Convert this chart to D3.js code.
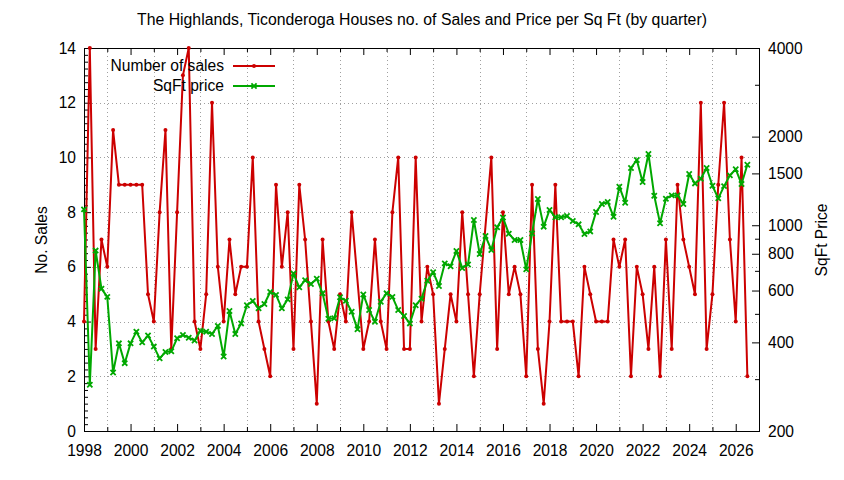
<!DOCTYPE html>
<html>
<head>
<meta charset="utf-8">
<script src="https://cdn.jsdelivr.net/npm/d3@7"></script>
<style>
  body { margin: 0; background: #fff; }
  svg text { font-family: "Liberation Sans", Arial, sans-serif; fill: #000; }
</style>
</head>
<body>
<div class="canvas"></div>
<script>
// quarterly data, first quarter 1998
const startYear = 1998;
const sales = [
  4, 14, 3, 7, 6, 11, 9, 9, 9, 9, 9, 5, 4, 8, 11, 3, 8, 13, 14, 4,
  3, 5, 12, 6, 4, 7, 5, 6, 6, 10, 4, 3, 2, 9, 6, 8, 3, 9, 7, 4,
  1, 7, 4, 3, 5, 4, 8, null, 3, 4, 7, 4, 3, 8, 10, 3, 3, 10, 4, 6,
  5, 1, 3, 5, 4, 8, 5, 2, 5, null, 10, 3, 8, 5, 6, 5, 2, 9, 3, 1,
  4, 9, 4, 4, 4, 2, 6, 5, 4, 4, 4, 7, 6, 7, 2, 6, 5, 3, 6, 2,
  7, 3, 9, 7, 6, 5, 12, 3, 5, 9, 12, 7, 4, 10, 2
];
const sqftPrice = [
  1132, 287, 820, 609, 571, 316, 397, 340, 397, 435, 400, 422, 387, 353, 371, 373, 413, 424, 415, 406,
  438, 435, 427, 455, 358, 511, 427, 464, 535, 553, 522, 540, 593, 580, 522, 560, 685, 615, 651, 631,
  658, 587, 481, 483, 569, 554, 508, 443, 582, 515, 470, 550, 587, 571, 515, 492, 464, 535, 563, 648,
  693, 622, 742, 726, 817, 716, 736, 1042, 798, 919, 824, 984, 1062, 936, 891, 891, 708, 938, 1228, 989,
  1127, 1064, 1064, 1075, 1034, 1007, 934, 953, 1109, 1181, 1200, 1069, 1352, 1193, 1565, 1666, 1402, 1746, 1260, 1015,
  1231, 1263, 1263, 1181, 1493, 1387, 1439, 1565, 1362, 1234, 1358, 1477, 1550, 1380, 1606
];
const yearTicks = d3.range(1998, 2027, 2);
const salesTicks = d3.range(0, 15, 2);
const priceTicks = [200, 400, 600, 800, 1000, 1500, 2000, 4000];
const priceMinor = [300, 500, 700, 900, 3000];
const seriesNames = ['Number of sales', 'SqFt price'];

const dims = { width: 844, height: 480 };
const plot = { left: 84, right: 759, top: 48, bottom: 431 };
const red = '#cc0000';
const green = '#00a800';
const fontSize = 15.6;

const svg = d3.select('.canvas')
  .append('svg')
  .attr('width', dims.width)
  .attr('height', dims.height);

const x = d3.scaleLinear().domain([1998, 2027]).range([plot.left, plot.right]);
const y = d3.scaleLinear().domain([0, 14]).range([plot.bottom, plot.top]);
const y2 = d3.scaleLog().domain([200, 4000]).range([plot.bottom, plot.top]);

const quarter = i => startYear + i * 0.25;

// grid (dotted): odd years vertically, sales majors horizontally
const grid = svg.append('g')
  .attr('stroke', '#a0a0a0')
  .attr('stroke-width', 1)
  .attr('stroke-dasharray', '1,3');
grid.selectAll('line.v')
  .data(d3.range(1999, 2027, 2))
  .enter().append('line')
    .attr('x1', d => Math.round(x(d)) + 0.5).attr('x2', d => Math.round(x(d)) + 0.5)
    .attr('y1', plot.top).attr('y2', plot.bottom);
grid.selectAll('line.h')
  .data(d3.range(2, 14, 2))
  .enter().append('line')
    .attr('y1', d => Math.round(y(d)) + 0.5).attr('y2', d => Math.round(y(d)) + 0.5)
    .attr('x1', plot.left).attr('x2', plot.right);

// axes
const styleAxis = g => {
  g.select('.domain').remove();
  g.selectAll('text').attr('font-size', fontSize).attr('font-family', '"Liberation Sans", Arial, sans-serif');
};

svg.append('g')
  .attr('transform', `translate(0,${plot.bottom})`)
  .call(d3.axisBottom(x).tickValues(yearTicks).tickFormat(d3.format('d')).tickSizeInner(-7).tickSizeOuter(0).tickPadding(13.5))
  .call(styleAxis);
svg.append('g')
  .attr('transform', `translate(0,${plot.bottom})`)
  .call(d3.axisBottom(x).tickValues(d3.range(1999, 2027, 2)).tickFormat('').tickSizeInner(-4).tickSizeOuter(0))
  .call(styleAxis);
svg.append('g')
  .attr('transform', `translate(0,${plot.top})`)
  .call(d3.axisTop(x).tickValues(yearTicks).tickFormat('').tickSizeInner(-7).tickSizeOuter(0))
  .call(styleAxis);
svg.append('g')
  .attr('transform', `translate(0,${plot.top})`)
  .call(d3.axisTop(x).tickValues(d3.range(1999, 2027, 2)).tickFormat('').tickSizeInner(-4).tickSizeOuter(0))
  .call(styleAxis);

svg.append('g')
  .attr('transform', `translate(${plot.left},0)`)
  .call(d3.axisLeft(y).tickValues(salesTicks).tickSizeInner(-7).tickSizeOuter(0).tickPadding(8))
  .call(styleAxis);
svg.append('g')
  .attr('transform', `translate(${plot.left},0)`)
  .call(d3.axisLeft(y).tickValues(d3.range(0, 14.01, 0.25).filter(v => v % 2 !== 0)).tickFormat('').tickSizeInner(-4).tickSizeOuter(0))
  .call(styleAxis);

svg.append('g')
  .attr('transform', `translate(${plot.right},0)`)
  .call(d3.axisRight(y2).tickValues(priceTicks).tickFormat(d3.format('d')).tickSizeInner(-7).tickSizeOuter(0).tickPadding(9))
  .call(styleAxis);
svg.append('g')
  .attr('transform', `translate(${plot.right},0)`)
  .call(d3.axisRight(y2).tickValues(priceMinor).tickFormat('').tickSizeInner(-4).tickSizeOuter(0))
  .call(styleAxis);

// border
svg.append('rect')
  .attr('x', plot.left + 0.5).attr('y', plot.top + 0.5)
  .attr('width', plot.right - plot.left).attr('height', plot.bottom - plot.top)
  .attr('fill', 'none').attr('stroke', '#000').attr('stroke-width', 1);

// series (quarters without a value are skipped, line joins across)
const salesPts = sales.map((v, i) => ({ t: quarter(i), v })).filter(d => d.v !== null);
const pricePts = sqftPrice.map((v, i) => ({ t: quarter(i), v }));

const salesLine = d3.line().x(d => x(d.t)).y(d => y(d.v));
const priceLine = d3.line().x(d => x(d.t)).y(d => y2(d.v));

svg.append('path').datum(salesPts)
  .attr('d', salesLine)
  .attr('fill', 'none').attr('stroke', red).attr('stroke-width', 2).attr('stroke-linejoin', 'round');
svg.append('g').selectAll('circle')
  .data(salesPts)
  .enter().append('circle')
    .attr('cx', d => x(d.t)).attr('cy', d => y(d.v)).attr('r', 2)
    .attr('fill', red);

svg.append('path').datum(pricePts)
  .attr('d', priceLine)
  .attr('fill', 'none').attr('stroke', green).attr('stroke-width', 2).attr('stroke-linejoin', 'round');

const cross = (g, cx, cy, s) => {
  g.append('path')
    .attr('d', `M${cx - s},${cy - s}L${cx + s},${cy + s}M${cx - s},${cy + s}L${cx + s},${cy - s}`)
    .attr('stroke', green).attr('stroke-width', 1.8).attr('fill', 'none');
};
const priceMarks = svg.append('g');
pricePts.forEach(d => cross(priceMarks, x(d.t), y2(d.v), 2.6));

// legend
const legend = svg.append('g');
seriesNames.forEach((name, i) => {
  const ly = 66 + i * 20;
  legend.append('text')
    .attr('x', 224).attr('y', ly).attr('dy', '0.35em')
    .attr('text-anchor', 'end').attr('font-size', fontSize)
    .text(name);
  legend.append('line')
    .attr('x1', 233).attr('x2', 275).attr('y1', ly).attr('y2', ly)
    .attr('stroke', i === 0 ? red : green).attr('stroke-width', 2);
  if (i === 0) {
    legend.append('circle').attr('cx', 254).attr('cy', ly).attr('r', 2).attr('fill', red);
  } else {
    cross(legend, 254, ly, 2.6);
  }
});

// titles
svg.append('text')
  .attr('x', 422).attr('y', 19).attr('dy', '0.35em')
  .attr('text-anchor', 'middle').attr('font-size', 15.8)
  .text('The Highlands, Ticonderoga Houses no. of Sales and Price per Sq Ft (by quarter)');

svg.append('text')
  .attr('transform', 'translate(42,240) rotate(-90)')
  .attr('dy', '0.35em').attr('text-anchor', 'middle').attr('font-size', fontSize)
  .text('No. Sales');

svg.append('text')
  .attr('transform', 'translate(822,240) rotate(-90)')
  .attr('dy', '0.35em').attr('text-anchor', 'middle').attr('font-size', fontSize)
  .text('SqFt Price');
</script>
</body>
</html>
